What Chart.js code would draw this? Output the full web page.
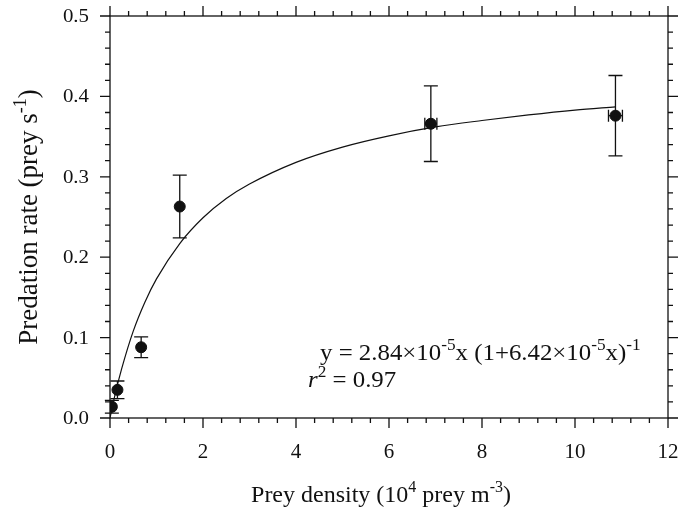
<!DOCTYPE html>
<html>
<head>
<meta charset="utf-8">
<script src="https://cdn.jsdelivr.net/npm/chart.js@4.4.0/dist/chart.umd.min.js"></script>
<style>
  html, body { margin: 0; padding: 0; background: #fff; }
  #wrap { width: 693px; height: 512px; position: relative; }
</style>
</head>
<body>
<div id="wrap"><canvas id="chartCanvas"></canvas></div>
<script>
// Measured points (prey density in 10^4 prey m^-3, predation rate in prey s^-1)
var densityX = [0.04, 0.16, 0.67, 1.5, 6.9, 10.87];
var rateY = [0.014, 0.035, 0.088, 0.263, 0.366, 0.376];
var rateErr = [0.008, 0.011, 0.013, 0.039, 0.047, 0.050];
var densityErr = [0, 0, 0, 0, 0.13, 0.15];

// Fitted curve
var curveX = [0, 0.1, 0.25, 0.5, 0.75, 1, 1.5, 2, 2.5, 3, 4, 5, 6, 7, 8, 9, 10, 10.87];
var curveY = [0, 0.027, 0.061, 0.108, 0.144, 0.173, 0.217, 0.249, 0.273, 0.291, 0.318, 0.337, 0.351, 0.362, 0.370, 0.377, 0.383, 0.387];

// Axis ticks
var xTicks = [0, 2, 4, 6, 8, 10, 12];
var yTicks = [0, 0.1, 0.2, 0.3, 0.4, 0.5];

var ink = '#111';
var serif = '"Liberation Serif", "Times New Roman", serif';

function toPoints(xs, ys) {
  var out = [];
  for (var i = 0; i < xs.length; i++) out.push({ x: xs[i], y: ys[i] });
  return out;
}

// draws a run of text pieces; piece = [text, style] with style '', 'sup' or 'it'
// sx stretches the text horizontally
function drawRich(ctx, pieces, x, y, size, align, sx) {
  sx = sx || 1;
  var small = Math.round(size * 0.68);
  var total = 0;
  pieces.forEach(function(p) {
    ctx.font = (p[1] === 'it' ? 'italic ' : '') + (p[1] === 'sup' ? small : size) + 'px ' + serif;
    total += ctx.measureText(p[0]).width;
  });
  ctx.save();
  ctx.translate(x, y);
  ctx.scale(sx, 1);
  var cx = align === 'center' ? -total / 2 : (align === 'right' ? -total : 0);
  ctx.textAlign = 'left';
  ctx.textBaseline = 'alphabetic';
  pieces.forEach(function(p) {
    ctx.font = (p[1] === 'it' ? 'italic ' : '') + (p[1] === 'sup' ? small : size) + 'px ' + serif;
    var dy = p[1] === 'sup' ? -size * 0.42 : 0;
    ctx.fillText(p[0], cx, dy);
    cx += ctx.measureText(p[0]).width;
  });
  ctx.restore();
}

var decorPlugin = {
  id: 'decor',
  afterDatasetsDraw: function(chart) {
    var ctx = chart.ctx;
    var xs = chart.scales.x, ys = chart.scales.y;
    var a = chart.chartArea;
    ctx.save();
    ctx.strokeStyle = ink;
    ctx.fillStyle = ink;

    // error bars
    ctx.lineWidth = 1.3;
    for (var i = 0; i < densityX.length; i++) {
      var px = xs.getPixelForValue(densityX[i]);
      var py = ys.getPixelForValue(rateY[i]);
      var top = ys.getPixelForValue(rateY[i] + rateErr[i]);
      var bot = ys.getPixelForValue(rateY[i] - rateErr[i]);
      ctx.beginPath();
      ctx.moveTo(px, top); ctx.lineTo(px, bot);
      ctx.moveTo(px - 7, top); ctx.lineTo(px + 7, top);
      ctx.moveTo(px - 7, bot); ctx.lineTo(px + 7, bot);
      if (densityErr[i] > 0) {
        var l = xs.getPixelForValue(densityX[i] - densityErr[i]);
        var r = xs.getPixelForValue(densityX[i] + densityErr[i]);
        ctx.moveTo(l, py); ctx.lineTo(r, py);
        ctx.moveTo(l, py - 6); ctx.lineTo(l, py + 6);
        ctx.moveTo(r, py - 6); ctx.lineTo(r, py + 6);
      }
      ctx.stroke();
    }

    // frame
    ctx.lineWidth = 1.3;
    ctx.strokeRect(a.left, a.top, a.right - a.left, a.bottom - a.top);

    // outward ticks on all four sides
    ctx.beginPath();
    for (var v = 0; v <= 12.001; v += 0.4) {
      var isMajor = Math.abs(v / 2 - Math.round(v / 2)) < 0.01;
      var len = isMajor ? 10 : 5;
      var tx = xs.getPixelForValue(v);
      ctx.moveTo(tx, a.bottom); ctx.lineTo(tx, a.bottom + len);
      ctx.moveTo(tx, a.top); ctx.lineTo(tx, a.top - len);
    }
    for (var w = 0; w <= 0.5001; w += 0.02) {
      var isMaj = Math.abs(w * 10 - Math.round(w * 10)) < 0.01;
      var ln = isMaj ? 10 : 5;
      var ty = ys.getPixelForValue(w);
      ctx.moveTo(a.left, ty); ctx.lineTo(a.left - ln, ty);
      ctx.moveTo(a.right, ty); ctx.lineTo(a.right + ln, ty);
    }
    ctx.stroke();

    // tick labels
    xTicks.forEach(function(t) {
      drawRich(ctx, [[String(t), '']], xs.getPixelForValue(t), 458, 21, 'center', 1);
    });
    yTicks.forEach(function(t) {
      drawRich(ctx, [[t.toFixed(1), '']], a.left - 21, ys.getPixelForValue(t) + 6, 18, 'right', 1.16);
    });

    // axis titles
    drawRich(ctx, [['Prey density (10', ''], ['4', 'sup'], [' prey m', ''], ['-3', 'sup'], [')', '']],
      381, 502, 24, 'center', 1);
    ctx.save();
    ctx.translate(37, (a.top + a.bottom) / 2);
    ctx.rotate(-Math.PI / 2);
    drawRich(ctx, [['Predation rate (prey s', ''], ['-1', 'sup'], [')', '']], 0, 0, 27, 'center', 1);
    ctx.restore();

    // fit annotation
    drawRich(ctx, [['y = 2.84\u00d710', ''], ['-5', 'sup'], ['x (1+6.42\u00d710', ''], ['-5', 'sup'], ['x)', ''], ['-1', 'sup']],
      320, 360, 23, 'left', 1.08);
    drawRich(ctx, [['r', 'it'], ['2', 'sup'], [' = 0.97', '']], 308, 387, 23, 'left', 1.08);

    ctx.restore();
  }
};

var chart = new Chart(document.getElementById('chartCanvas'), {
  type: 'scatter',
  data: {
    datasets: [{
      data: toPoints(curveX, curveY),
      showLine: true,
      borderColor: ink,
      borderWidth: 1.2,
      pointRadius: 0,
      cubicInterpolationMode: 'monotone',
      order: 2
    }, {
      data: toPoints(densityX, rateY),
      showLine: false,
      pointRadius: 5.5,
      pointBackgroundColor: ink,
      pointBorderColor: ink,
      order: 1
    }]
  },
  options: {
    responsive: true,
    maintainAspectRatio: false,
    animation: false,
    events: [],
    layout: { padding: { left: 0, top: 16, right: 25, bottom: 0 } },
    plugins: { legend: { display: false }, tooltip: { enabled: false } },
    scales: {
      x: {
        type: 'linear', min: 0, max: 12,
        grid: { display: false },
        border: { display: false },
        ticks: { display: false },
        afterFit: function(s) { s.height = 94; }
      },
      y: {
        type: 'linear', min: 0, max: 0.5,
        grid: { display: false },
        border: { display: false },
        ticks: { display: false },
        afterFit: function(s) { s.width = 110; }
      }
    }
  },
  plugins: [decorPlugin]
});
</script>
</body>
</html>
